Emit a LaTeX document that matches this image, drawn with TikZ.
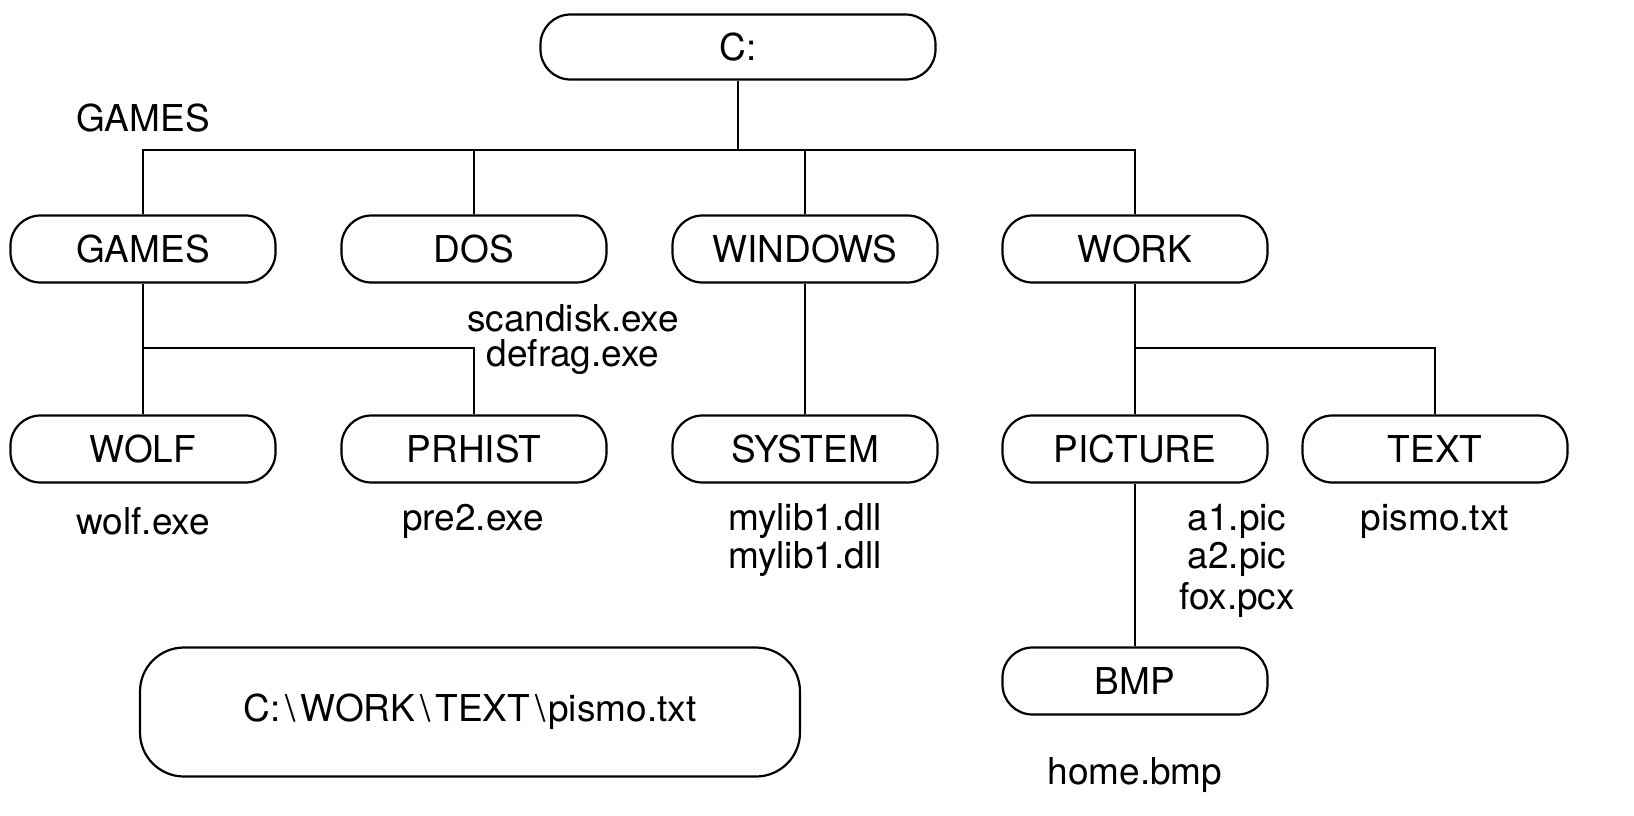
\documentclass[tikz,border=0pt]{standalone}
\usepackage{fontspec}
\setmainfont{TeX Gyre Heros}
\begin{document}
\begin{tikzpicture}[x=0.5pt,y=-0.5pt,
  dirbox/.style={draw, line width=1.1pt, rounded corners=15pt, minimum width=132.5pt, minimum height=33.5pt, inner sep=0pt, font=\fontsize{18.5}{21}\selectfont},
  fname/.style={inner sep=0pt, font=\fontsize{18.5}{21}\selectfont},
  conn/.style={line width=1.1pt}]
\useasboundingbox (0,0) rectangle (1634,815);
% nodes
\node[dirbox, minimum width=197.5pt, minimum height=32.5pt] (c) at (738,47) {C:};
\node[fname] (gameslbl) at (143,118) {GAMES};
\node[dirbox] (games) at (143,249) {GAMES};
\node[dirbox] (dos) at (474,249) {DOS};
\node[dirbox] (windows) at (805,249) {WINDOWS};
\node[dirbox] (work) at (1135,249) {WORK};
\node[fname] (scan) at (573,318) {scandisk.exe};
\node[fname] (defrag) at (573,357) {defrag.exe};
\node[dirbox] (wolf) at (143,449) {WOLF};
\node[dirbox] (prhist) at (474,449) {PRHIST};
\node[dirbox] (system) at (805,449) {SYSTEM};
\node[dirbox] (picture) at (1135,449) {PICTURE};
\node[dirbox] (text) at (1435,449) {TEXT};
\node[fname] (wolfexe) at (143,521) {wolf.exe};
\node[fname] (pre2) at (473,521) {pre2.exe};
\node[fname] (mylibA) at (805,521) {mylib1.dll};
\node[fname] (mylibB) at (805,559) {mylib1.dll};
\node[fname] (a1) at (1237,521) {a1.pic};
\node[fname] (a2) at (1237,559) {a2.pic};
\node[fname] (fox) at (1237,600) {fox.pcx};
\node[fname] (pismo) at (1435,521) {pismo.txt};
\node[dirbox] (bmp) at (1135,681) {BMP};
\node[fname] (home) at (1135,775) {home.bmp};
\node[dirbox, minimum width=330pt, minimum height=64.5pt, rounded corners=22pt] (path) at (470,712) {C:\kern2.5pt\textbackslash\kern2.5pt WORK\kern2.5pt\textbackslash\kern2.5pt TEXT\kern2.5pt\textbackslash\kern1.5pt pismo.txt};
% connectors
\coordinate (bus) at (738,150);
\draw[conn] (c.south) -- (bus);
\draw[conn] (games.north) |- (bus) -| (work.north);
\draw[conn] (dos.north) -- (dos.north |- bus);
\draw[conn] (windows.north) -- (windows.north |- bus);
\coordinate (gbus) at (143,348);
\draw[conn] (games.south) -- (wolf.north);
\draw[conn] (gbus) -| (prhist.north);
\draw[conn] (windows.south) -- (system.north);
\draw[conn] (work.south) -- (picture.north);
\coordinate (wbus) at (1135,348);
\draw[conn] (wbus) -| (text.north);
\draw[conn] (picture.south) -- (bmp.north);
\end{tikzpicture}
\end{document}
